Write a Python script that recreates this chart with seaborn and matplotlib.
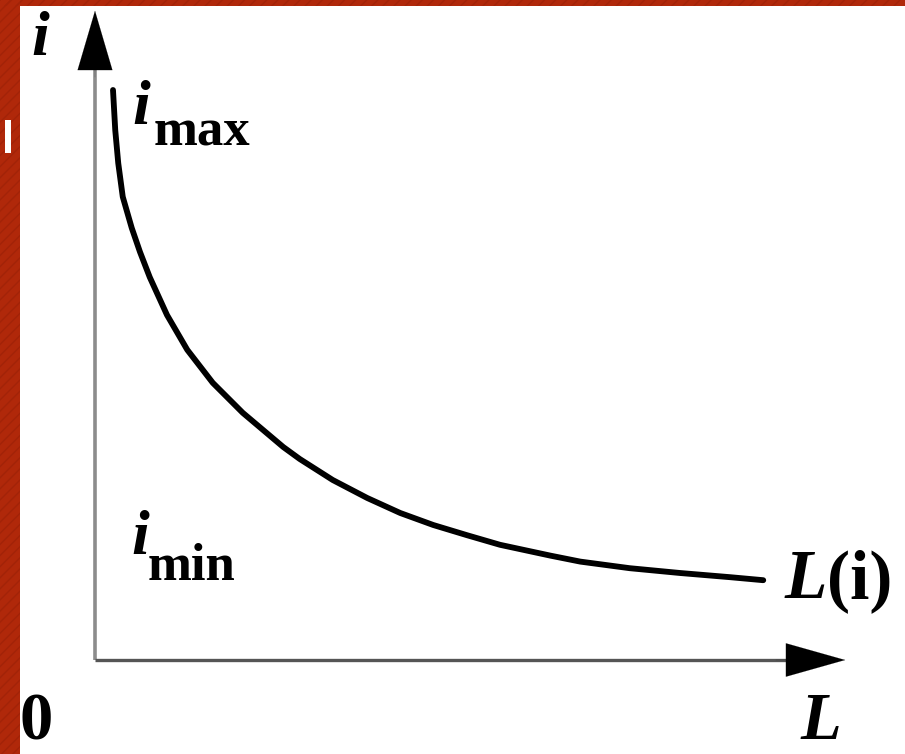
import numpy as np
import pandas as pd
import matplotlib
matplotlib.use("Agg")
import matplotlib.pyplot as plt
from matplotlib.patches import Rectangle
import seaborn as sns

# Inductance curve L(i): current falls as inductance grows
L_values = [0.24, 0.27, 0.31, 0.37, 0.49, 0.60, 0.73, 0.96, 1.23, 1.57,
            1.97, 2.51, 2.73, 3.17, 3.63, 4.07, 4.51, 4.96, 5.40, 6.07,
            6.47, 7.13, 7.80, 8.47, 8.91]
i_values = [9.50, 8.83, 8.28, 7.72, 7.20, 6.80, 6.38, 5.75, 5.17, 4.62,
            4.12, 3.55, 3.35, 3.00, 2.70, 2.45, 2.25, 2.08, 1.92, 1.74,
            1.64, 1.53, 1.45, 1.38, 1.33]

df = pd.DataFrame({"L": L_values, "i": i_values})

sns.set_style("white")
plt.rcParams["font.family"] = ["Liberation Serif", "DejaVu Serif"]

W, H = 905, 754
fig = plt.figure(figsize=(W / 100, H / 100), dpi=100)
fig.patch.set_facecolor("#B0280A")

left_px, top_px = 20, 6
# striped slide border strips
for (x0, y0, w, h) in [(0, 0, left_px / W, 1), (0, (H - top_px) / H, 1, top_px / H)]:
    fig.patches.append(Rectangle((x0, y0), w, h, transform=fig.transFigure,
                                 facecolor="none", edgecolor="#A22308",
                                 hatch="///", linewidth=0, zorder=0))

# drawing area (white panel)
ax = fig.add_axes([left_px / W, 0, (W - left_px) / W, (H - top_px) / H])
ax.set_facecolor("white")

# scale: 75 px per unit in L, 60 px per unit in i, origin at pixel (95, 660)
ox, oy, sx, sy = 95, 660, 75.0, 60.0
ax.set_xlim((left_px - ox) / sx, (W - ox) / sx)
ax.set_ylim(-(H - oy) / sy, (oy - top_px) / sy)


def px(x, y):
    return (x - ox) / sx, (oy - y) / sy


sns.lineplot(data=df, x="L", y="i", ax=ax, color="black", linewidth=4.2,
             sort=False, estimator=None, zorder=3,
             solid_joinstyle="round", solid_capstyle="round")

for s in ax.spines.values():
    s.set_visible(False)
ax.set_xticks([])
ax.set_yticks([])
ax.set_xlabel("")
ax.set_ylabel("")

# axes with arrowheads
ytip = px(95, 8)
xtip = px(848, 660)
ax.plot([0, 0], [0, ytip[1] - 0.5], color="#8c8c8c", lw=2.6,
        solid_capstyle="butt", zorder=2)
ax.plot([0, xtip[0] - 0.5], [0, 0], color="#555555", lw=2.4,
        solid_capstyle="butt", zorder=2)
ax.annotate("", xy=ytip, xytext=(0, ytip[1] - 1.2),
            arrowprops=dict(arrowstyle="-|>,head_length=0.85,head_width=0.25",
                            mutation_scale=50, color="black", lw=0.1))
ax.annotate("", xy=xtip, xytext=(xtip[0] - 1.0, 0),
            arrowprops=dict(arrowstyle="-|>,head_length=0.85,head_width=0.24",
                            mutation_scale=50, color="black", lw=0.1))

bi = dict(fontweight="bold", fontstyle="italic", color="black")
bn = dict(fontweight="bold", fontstyle="normal", color="black")

# axis names
ax.text(*px(40, 55), "i", fontsize=46, ha="center", va="baseline", **bi)
ax.text(*px(821, 739), "L", fontsize=48, ha="center", va="baseline", **bi)
ax.text(*px(36, 739), "0", fontsize=48, ha="center", va="baseline",
        clip_on=True, **bn)

# curve annotations
ax.text(*px(141, 124), "i", fontsize=46, ha="center", va="baseline", **bi)
ax.text(*px(154, 145), "max", fontsize=38, ha="left", va="baseline", **bn)
ax.text(*px(140, 554), "i", fontsize=46, ha="center", va="baseline", **bi)
ax.text(*px(148, 580), "min", fontsize=38, ha="left", va="baseline", **bn)
ax.text(*px(785, 598), "L", fontsize=50, ha="left", va="baseline", **bi)
ax.text(*px(827, 598), "(i)", fontsize=50, ha="left", va="baseline", **bn)

# caret mark on the slide border
fig.patches.append(Rectangle((5 / W, (H - 153) / H), 6 / W, 33 / H,
                             transform=fig.transFigure, facecolor="white",
                             edgecolor="none", zorder=5))

fig.savefig("out.png", dpi=100, facecolor=fig.get_facecolor())
